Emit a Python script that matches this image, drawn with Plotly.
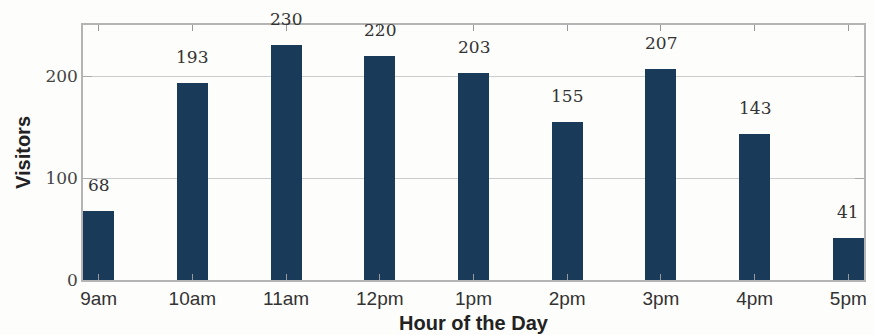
import plotly.graph_objects as go

# Hourly visitor counts
hours = ["9am", "10am", "11am", "12pm", "1pm", "2pm", "3pm", "4pm", "5pm"]
visitors = [68, 193, 230, 220, 203, 155, 207, 143, 41]
y_ticks = [0, 100, 200]

BAR = "#193a58"
AXIS = "#b4b4b4"
SERIF = "DejaVu Serif, Liberation Serif, serif"
SANS = "Liberation Sans, Arial, sans-serif"
x_pos = list(range(len(hours)))

fig = go.Figure()
fig.add_trace(go.Bar(
    x=x_pos, y=visitors, width=0.33,
    marker=dict(color=BAR, line=dict(width=0)),
    hoverinfo="x+y",
))

# value labels above each bar
for xi, v in zip(x_pos, visitors):
    fig.add_annotation(
        x=xi, y=v, text=str(v), showarrow=False, yshift=26,
        font=dict(family=SERIF, size=17, color="#333333"),
        xref="x", yref="y",
    )

fig.update_layout(
    width=874, height=335,
    margin=dict(l=83, r=10, t=25, b=55),
    paper_bgcolor="#fdfdfb", plot_bgcolor="#fdfdfb",
    showlegend=False, bargap=0,
)
fig.update_xaxes(
    range=[-0.167, 8.167], tickmode="array", tickvals=x_pos, ticktext=hours,
    showline=True, linecolor=AXIS, linewidth=1.5, mirror="ticks",
    ticks="inside", ticklen=6, tickcolor="#999999", showgrid=False,
    tickfont=dict(family=SANS, size=19, color="#333333"),
    title=dict(text="<b>Hour of the Day</b>", standoff=8,
               font=dict(family=SANS, size=20, color="#222222")),
    automargin=False, fixedrange=True,
)
fig.update_yaxes(
    range=[0, 250], tickmode="array", tickvals=y_ticks,
    showline=True, linecolor=AXIS, linewidth=1.5, mirror="ticks",
    ticks="inside", ticklen=9, tickcolor="#aaaaaa",
    showgrid=True, gridcolor="#cccccc", gridwidth=1, zeroline=False,
    tickfont=dict(family=SERIF, size=17, color="#444444"),
    title=dict(text="<b>Visitors</b>", standoff=9,
               font=dict(family=SANS, size=20, color="#222222")),
    automargin=False, fixedrange=True,
)

fig.write_html("out.html")
